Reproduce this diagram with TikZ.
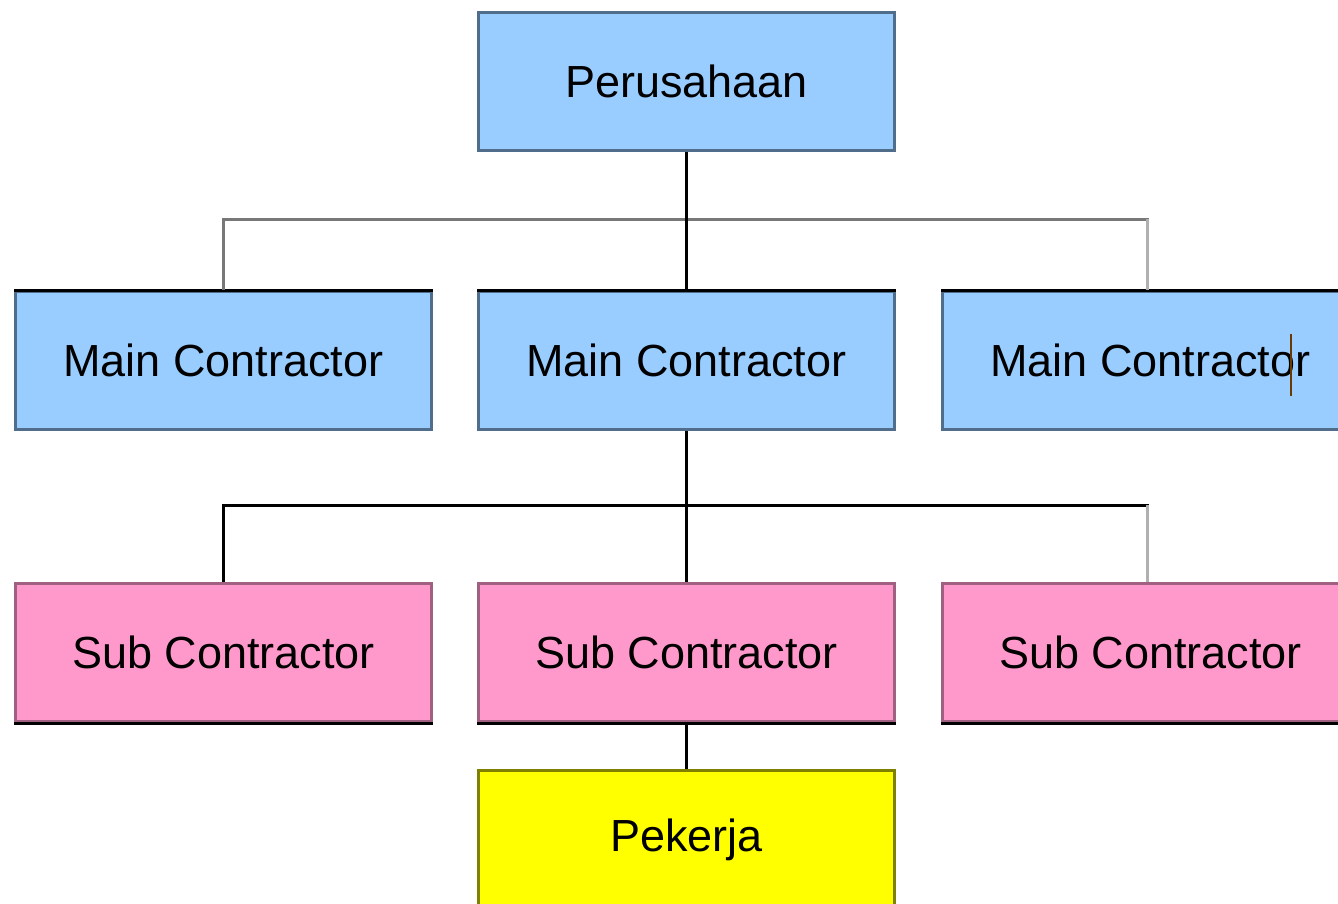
\documentclass[tikz,border=0pt]{standalone}
\usepackage{fontspec}
\setmainfont{Liberation Sans}
\begin{document}
\begin{tikzpicture}[x=1pt,y=1pt,
  box/.style={draw, line width=3pt, minimum width=416pt, minimum height=138pt, inner sep=0pt, anchor=north west, font=\fontsize{45}{50}\selectfont, text=black},
  bluebox/.style={box, fill={rgb,255:red,153;green,204;blue,255}, draw={rgb,255:red,80;green,110;blue,140}},
  pinkbox/.style={box, fill={rgb,255:red,255;green,153;blue,204}, draw={rgb,255:red,160;green,96;blue,130}},
  yellowbox/.style={box, fill={rgb,255:red,255;green,255;blue,0}, draw={rgb,255:red,128;green,128;blue,0}},
  conn/.style={line width=3pt},
]
\useasboundingbox (0,0) rectangle (1338,-903);
\clip (0,0) rectangle (1338,-903);
% connectors first
\coordinate (b1) at (685,-219);
\coordinate (b2) at (685,-505);
\node[bluebox] (P) at (477,-11) {Perusahaan};
\node[bluebox] (M1) at (14,-290) {Main Contractor};
\node[bluebox] (M2) at (477,-290) {Main Contractor};
\node[bluebox] (M3) at (941,-290) {Main Contractor};
\node[pinkbox] (S1) at (14,-582) {Sub Contractor};
\node[pinkbox] (S2) at (477,-582) {Sub Contractor};
\node[pinkbox] (S3) at (941,-582) {Sub Contractor};
\node[yellowbox] (W) at (477,-769) {Pekerja};
% black accent edges
\draw[line width=3pt] (M1.north west) -- (M1.north east);
\draw[line width=3pt] (M2.north west) -- (M2.north east);
\draw[line width=3pt] (M3.north west) -- (M3.north east);
\draw[line width=3pt] (S1.south west) -- (S1.south east);
\draw[line width=3pt] (S2.south west) -- (S2.south east);
\draw[line width=3pt] (S3.south west) -- (S3.south east);
% level 1 connectors
\draw[conn, draw={rgb,255:red,120;green,120;blue,120}] (M1.north -| 223,0) |- (b1) -| (M3.north -| 1147,0);
\draw[conn, draw={rgb,255:red,176;green,176;blue,176}] (b1 -| 1147,0) -- (M3.north -| 1147,0);
\draw[conn] (P.south) -- (M2.north);
% level 2 connectors
\draw[conn] (S1.north -| 223,0) |- (b2) -| (S3.north -| 1147,0);
\draw[conn, draw={rgb,255:red,176;green,176;blue,176}] (b2 -| 1147,0) -- (S3.north -| 1147,0);
\draw[conn] (M2.south) -- (S2.north);
\draw[conn] (S2.south) -- (W.north);
% text caret
\draw[line width=2pt, draw={rgb,255:red,107;green,58;blue,0}] (1291,-334) -- (1291,-396);
\end{tikzpicture}
\end{document}
